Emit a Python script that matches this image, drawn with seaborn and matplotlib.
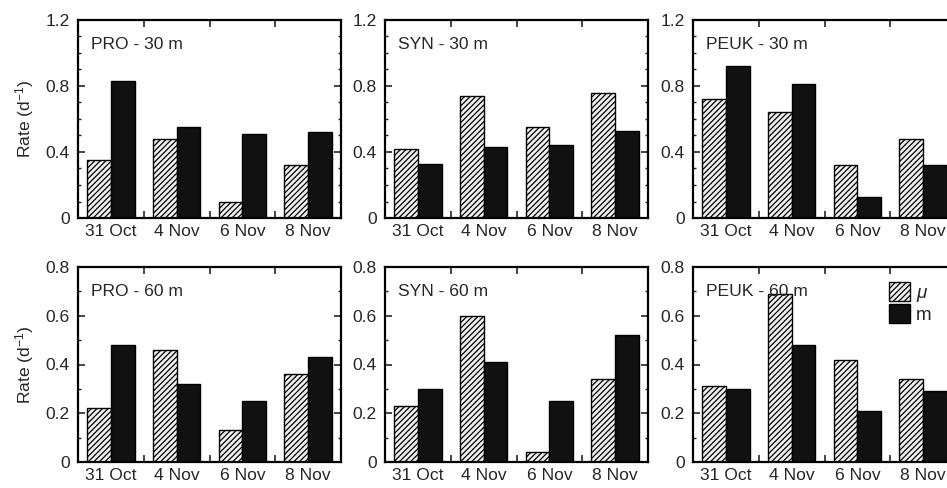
import numpy as np
import pandas as pd
import matplotlib
matplotlib.use("Agg")
import matplotlib.pyplot as plt
from matplotlib.patches import Patch
from matplotlib.ticker import MultipleLocator, FixedLocator
import seaborn as sns

dates = ["31 Oct", "4 Nov", "6 Nov", "8 Nov"]
params = ["μ", "m"]

pro30_mu = [0.35, 0.48, 0.10, 0.32]
pro30_m = [0.83, 0.55, 0.51, 0.52]
syn30_mu = [0.42, 0.74, 0.55, 0.76]
syn30_m = [0.33, 0.43, 0.44, 0.53]
peuk30_mu = [0.72, 0.64, 0.32, 0.48]
peuk30_m = [0.92, 0.81, 0.13, 0.32]

pro60_mu = [0.22, 0.46, 0.13, 0.36]
pro60_m = [0.48, 0.32, 0.25, 0.43]
syn60_mu = [0.23, 0.60, 0.04, 0.34]
syn60_m = [0.30, 0.41, 0.25, 0.52]
peuk60_mu = [0.31, 0.69, 0.42, 0.34]
peuk60_m = [0.30, 0.48, 0.21, 0.29]

ticks_30 = [0, 0.4, 0.8, 1.2]
ticks_60 = [0, 0.2, 0.4, 0.6, 0.8]

panels = [
    ("PRO - 30 m", pro30_mu, pro30_m, ticks_30),
    ("SYN - 30 m", syn30_mu, syn30_m, ticks_30),
    ("PEUK - 30 m", peuk30_mu, peuk30_m, ticks_30),
    ("PRO - 60 m", pro60_mu, pro60_m, ticks_60),
    ("SYN - 60 m", syn60_mu, syn60_m, ticks_60),
    ("PEUK - 60 m", peuk60_mu, peuk60_m, ticks_60),
]

sns.set_theme(style="white")
plt.rcParams["font.family"] = ["Liberation Sans", "DejaVu Sans"]
plt.rcParams["hatch.linewidth"] = 0.9
plt.rcParams["mathtext.fontset"] = "custom"
plt.rcParams["mathtext.rm"] = "Liberation Sans"
plt.rcParams["mathtext.it"] = "Liberation Sans:italic"

W, H = 947, 488
fig = plt.figure(figsize=(W / 100, H / 100), dpi=100)

lefts = [78, 385, 693]
tops = [20, 267]
bottoms = [218, 462]
aw = 263

FS = 12.6

for i, (title, mu, m, yt) in enumerate(panels):
    r, c = divmod(i, 3)
    ax = fig.add_axes([lefts[c] / W, 1 - bottoms[r] / H, aw / W, (bottoms[r] - tops[r]) / H])
    df = pd.DataFrame({
        "date": dates * 2,
        "value": list(mu) + list(m),
        "param": [params[0]] * 4 + [params[1]] * 4,
    })
    sns.barplot(data=df, x="date", y="value", hue="param", order=dates,
                hue_order=params, palette=["white", "#111111"], width=0.72,
                edgecolor="black", linewidth=1.0, legend=False, ax=ax)
    for bar in ax.containers[0]:
        bar.set_hatch("//////")
        bar.set_facecolor("#f0f0f0")
    ax.set_xlabel("")
    ax.set_ylabel("Rate (d$^{-1}$)" if c == 0 else "", fontsize=FS, labelpad=7)
    ax.set_yticks(yt)
    ax.set_yticklabels(["0" if v == 0 else f"{v:.1f}" for v in yt])
    ax.yaxis.set_minor_locator(MultipleLocator(0.1))
    ax.xaxis.set_minor_locator(FixedLocator([0.5, 1.5, 2.5]))
    ax.set_xlim(-0.5, 3.5)
    ax.set_ylim(0, yt[-1])
    ax.tick_params(axis="x", which="major", length=0, pad=4, labelsize=FS)
    ax.tick_params(axis="x", which="minor", direction="in", length=5, width=1.2,
                   top=True, bottom=True)
    ax.tick_params(axis="y", which="major", direction="in", length=5, width=1.2,
                   left=True, right=True, labelsize=FS, pad=6)
    ax.tick_params(axis="y", which="minor", direction="in", length=2.5, width=1.0,
                   left=True, right=True)
    for s in ax.spines.values():
        s.set_visible(True)
        s.set_color("black")
        s.set_linewidth(1.6)
    ax.text(0.05, 0.875, title, transform=ax.transAxes, fontsize=FS,
            ha="left", va="center")
    if i == 5:
        handles = [Patch(facecolor="#f0f0f0", edgecolor="black", hatch="//////"),
                   Patch(facecolor="#111111", edgecolor="black")]
        ax.legend(handles, ["$\\mu$", "m"], loc="upper right", frameon=False,
                  fontsize=FS + 1, handlelength=1.1, handleheight=1.15,
                  handletextpad=0.3, labelspacing=0.0,
                  bbox_to_anchor=(0.95, 0.98), borderaxespad=0.2)

fig.savefig("out.png", dpi=100)
